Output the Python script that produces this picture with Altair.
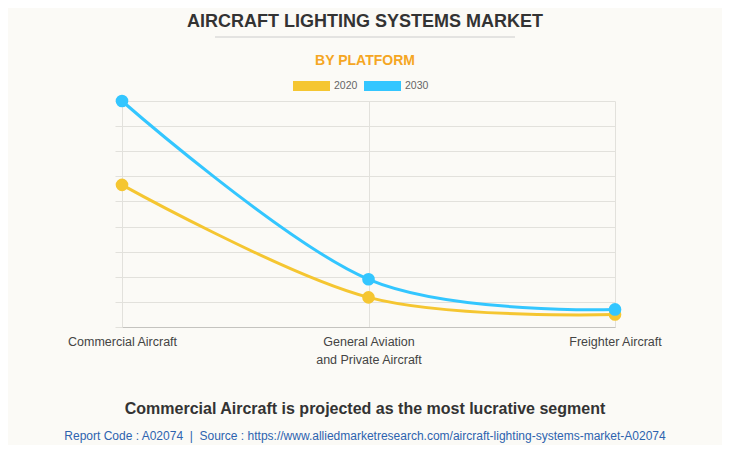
import altair as alt
import pandas as pd

# ---- data ----
categories = ["Commercial Aircraft", "General Aviation and Private Aircraft", "Freighter Aircraft"]
years = ["2020", "2030"]
values_2020 = [5.66, 1.18, 0.50]
values_2030 = [9.00, 1.90, 0.70]
series_colors = ["#F5C631", "#33C6FF"]

title_text = "AIRCRAFT LIGHTING SYSTEMS MARKET"
subtitle_text = "BY PLATFORM"
headline_text = "Commercial Aircraft is projected as the most lucrative segment"
footer_text = "Report Code : A02074 \u00a0|\u00a0 Source : https://www.alliedmarketresearch.com/aircraft-lighting-systems-market-A02074"

rows = []
for year, vals in zip(years, [values_2020, values_2030]):
    for cat, v in zip(categories, vals):
        rows.append({"platform": cat, "year": year, "series": year, "value": v})
df = pd.DataFrame(rows)

# ---- layout ----
W, H = 493, 226
PL, PT = 114, 93
TOTAL_W, TOTAL_H = 714, 437
PR = TOTAL_W - PL - W
PB = TOTAL_H - PT - H
CX = 365 - 8 - PL  # horizontal centre of the picture, in plot coordinates

FONT = "Liberation Sans"
GRID = "#e2e1dc"

x_enc = alt.X(
    "platform:N",
    sort=categories,
    scale=alt.Scale(type="point", padding=0),
    axis=alt.Axis(
        title=None,
        labelAngle=0,
        labelExpr="datum.label == 'General Aviation and Private Aircraft' ? ['General Aviation', 'and Private Aircraft'] : datum.label",
        labelFont=FONT,
        labelFontSize=12.5,
        labelColor="#444444",
        labelPadding=8,
        labelLineHeight=18,
        labelOverlap=False,
        labelFlush=False,
        ticks=False,
        grid=True,
        gridColor=GRID,
        domainColor="#c4c3bf",
        domainWidth=1,
    ),
)
y_enc = alt.Y(
    "value:Q",
    scale=alt.Scale(domain=[0, 9], nice=False, zero=True),
    axis=alt.Axis(
        title=None,
        labels=False,
        domain=False,
        ticks=True,
        tickSize=7,
        tickColor=GRID,
        values=list(range(10)),
        gridColor=GRID,
    ),
)

# line colours: data-driven domain (sorted 2020, 2030) so its (hidden) legend is not merged with the fill legend
lines = alt.Chart(df).mark_line(interpolate="cardinal", tension=0, strokeWidth=3).encode(
    x=x_enc,
    y=y_enc,
    color=alt.Color("series:N", sort="ascending", scale=alt.Scale(range=series_colors), legend=None),
)

points = alt.Chart(df).mark_circle(size=160, opacity=1).encode(
    x=x_enc,
    y=y_enc,
    fill=alt.Fill(
        "year:N",
        scale=alt.Scale(domain=years, range=series_colors),
        legend=alt.Legend(
            title=None,
            orient="none",
            legendX=293 - 8 - PL,
            legendY=86 - 18.5 - 8 - PT,
            direction="horizontal",
            symbolType="M-1,-0.27L1,-0.27L1,0.27L-1,0.27Z",
            symbolSize=1369,
            symbolStrokeWidth=0,
            symbolOpacity=1,
            labelFont=FONT,
            labelFontSize=10.5,
            labelColor="#666666",
            labelOffset=4,
            columnPadding=6,
            padding=0,
        ),
    ),
)

title = alt.Chart(pd.DataFrame({"t": [title_text]})).mark_text(
    font=FONT, fontSize=18, fontWeight="bold", color="#333333", align="center", baseline="middle"
).encode(text="t:N", x=alt.value(CX), y=alt.value(21.5 - 8 - PT))

sep = alt.Chart(pd.DataFrame({"t": [0]})).mark_rule(color="#cccccc", strokeWidth=1).encode(
    x=alt.value(215 - 8 - PL), x2=alt.value(515 - 8 - PL), y=alt.value(37 - 8 - PT)
)

subtitle = alt.Chart(pd.DataFrame({"t": [subtitle_text]})).mark_text(
    font=FONT, fontSize=14, fontWeight="bold", color="#F5A623", align="center", baseline="middle"
).encode(text="t:N", x=alt.value(CX), y=alt.value(60.5 - 8 - PT))

headline = alt.Chart(pd.DataFrame({"t": [headline_text]})).mark_text(
    font=FONT, fontSize=16, fontWeight="bold", color="#333333", align="center", baseline="middle"
).encode(text="t:N", x=alt.value(CX), y=alt.value(409 - 8 - PT))

footer = alt.Chart(pd.DataFrame({"t": [footer_text]})).mark_text(
    font=FONT, fontSize=12, color="#2D63AF", align="center", baseline="middle"
).encode(text="t:N", x=alt.value(CX), y=alt.value(436 - 8 - PT))

chart = (
    alt.layer(lines, points, title, sep, subtitle, headline, footer)
    .properties(
        width=W,
        height=H,
        autosize=alt.AutoSizeParams(type="none"),
        padding={"left": PL, "top": PT, "right": PR, "bottom": PB},
        background="#FBFAF6",
    )
    .configure_view(stroke=None)
)

chart.save("out.html", embed_options={"renderer": "svg", "actions": False})
